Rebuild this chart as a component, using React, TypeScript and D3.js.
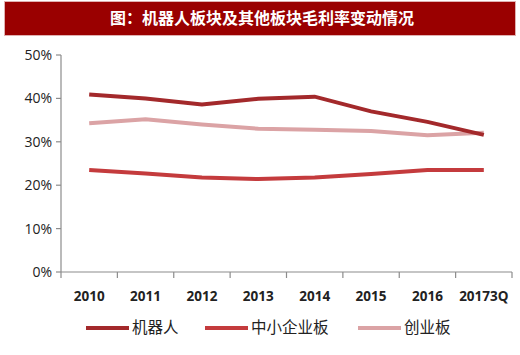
import React from "react";
import * as d3 from "d3";

const categories = ["2010", "2011", "2012", "2013", "2014", "2015", "2016", "20173Q"];
const robot = [40.9, 40.0, 38.6, 39.9, 40.4, 37.0, 34.6, 31.6];
const smeBoard = [23.5, 22.7, 21.8, 21.4, 21.8, 22.6, 23.5, 23.5];
const gemBoard = [34.3, 35.2, 34.0, 33.0, 32.8, 32.5, 31.5, 32.1];
const yTicks = [0, 10, 20, 30, 40, 50];
const seriesNames = ["机器人", "中小企业板", "创业板"];
const colors = ["#A3292B", "#C43B3D", "#DBA3A5"];

export default function App() {
  const W = 520, H = 355;
  const left = 61, right = 512, top = 55, bottom = 272;
  const x = d3.scaleBand().domain(categories).range([left, right]);
  const y = d3.scaleLinear().domain([0, 50]).range([bottom, top]);
  const line = d3.line<number>()
    .x((_, i) => (x(categories[i]) as number) + x.bandwidth() / 2)
    .y((d) => y(d));
  const series = [robot, smeBoard, gemBoard];
  const legendX = [86, 205, 358];
  const font = "'Open Sans', 'Liberation Sans', Arial, sans-serif";
  return (
    <svg width={W} height={H} style={{ position: "absolute", left: 0, top: 0, background: "#fff" }}>
      <rect x={4.5} y={1.5} width={511} height={34} fill="#9A0000" stroke="#E0B0B0" strokeWidth={1} />
      <text x={262} y={24} textAnchor="middle" fill="#fff" fontSize={16} fontWeight="bold"
        fontFamily="'Noto Sans CJK SC', sans-serif">图：机器人板块及其他板块毛利率变动情况</text>
      {/* y axis */}
      <line x1={left} x2={left} y1={top} y2={bottom} stroke="#8C8C8C" strokeWidth={1.2} />
      {yTicks.map((t) => (
        <g key={t}>
          <line x1={left - 5} x2={left} y1={y(t)} y2={y(t)} stroke="#8C8C8C" strokeWidth={1.2} />
          <text x={left - 9} y={y(t)} dy="0.35em" textAnchor="end" fontSize={14} fill="#222" fontFamily={font}>{t}%</text>
        </g>
      ))}
      {/* x axis */}
      <line x1={left} x2={right} y1={bottom} y2={bottom} stroke="#8C8C8C" strokeWidth={1.2} />
      {categories.map((c) => (
        <line key={"t" + c} x1={x(c)} x2={x(c)} y1={bottom} y2={bottom + 6} stroke="#8C8C8C" strokeWidth={1.2} />
      ))}
      <line x1={right} x2={right} y1={bottom} y2={bottom + 6} stroke="#8C8C8C" strokeWidth={1.2} />
      {categories.map((c) => (
        <text key={c} x={(x(c) as number) + x.bandwidth() / 2} y={296} dy="0.35em" textAnchor="middle"
          fontSize={13.5} fontWeight="bold" fill="#222" fontFamily={font}>{c}</text>
      ))}
      {/* lines */}
      {series.map((s, i) => (
        <path key={i} d={line(s) || ""} fill="none" stroke={colors[i]} strokeWidth={4} />
      )).reverse()}
      {/* legend */}
      {seriesNames.map((n, i) => (
        <g key={n}>
          <line x1={legendX[i]} x2={legendX[i] + 43} y1={328} y2={328} stroke={colors[i]} strokeWidth={4} />
          <text x={legendX[i] + 46} y={328} dy="0.35em" fontSize={15.5} fill="#222"
            fontFamily="'Noto Sans CJK SC', sans-serif">{n}</text>
        </g>
      ))}
    </svg>
  );
}
